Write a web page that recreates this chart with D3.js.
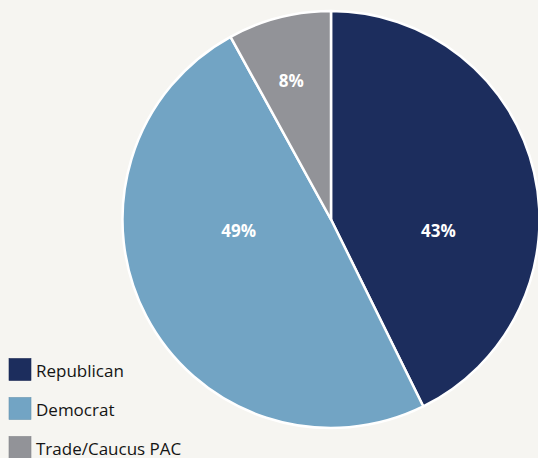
<!DOCTYPE html>
<html>
<head>
<meta charset="utf-8">
<script src="https://cdn.jsdelivr.net/npm/d3@7"></script>
<style>
  body { margin: 0; background: #f6f5f1; }
  svg { display: block; }
</style>
</head>
<body>
<svg id="chart" width="538" height="458"></svg>
<script>
const categories = ['Republican', 'Democrat', 'Trade/Caucus PAC'];
const shares = [42.7, 49.3, 8.0];
const sliceColors = ['#1c2d5d', '#72a4c4', '#929398'];

const width = 538;
const height = 458;
const cx = 331, cy = 219.5, radius = 208.5;

// where each label sits: [angle in degrees from top, distance from centre]
const labelPolar = [[95.9, 108], [263.2, 93], [344, 144]];

const svg = d3.select('#chart');

const pie = d3.pie().sort(null).value(d => d);
const arc = d3.arc().innerRadius(0).outerRadius(radius);

const g = svg.append('g').attr('transform', `translate(${cx},${cy})`);

g.selectAll('path')
  .data(pie(shares))
  .enter()
  .append('path')
  .attr('d', arc)
  .attr('fill', (d, i) => sliceColors[i])
  .attr('stroke', '#fff')
  .attr('stroke-width', 2.5)
  .attr('stroke-linejoin', 'round');

g.selectAll('text.pct')
  .data(shares)
  .enter()
  .append('text')
  .attr('class', 'pct')
  .attr('x', (d, i) => labelPolar[i][1] * Math.sin(labelPolar[i][0] * Math.PI / 180))
  .attr('y', (d, i) => -labelPolar[i][1] * Math.cos(labelPolar[i][0] * Math.PI / 180))
  .attr('dy', '0.36em')
  .attr('text-anchor', 'middle')
  .attr('fill', '#fff')
  .attr('font-family', 'Open Sans, sans-serif')
  .attr('font-weight', 'bold')
  .attr('font-size', 17)
  .text(d => Math.round(d) + '%');

// legend
const legendY = d3.scalePoint().domain(categories).range([369.5, 447.5]);

const legend = svg.selectAll('g.legend')
  .data(categories)
  .enter()
  .append('g')
  .attr('class', 'legend')
  .attr('transform', d => `translate(9,${legendY(d)})`);

legend.append('rect')
  .attr('x', 0)
  .attr('y', -11)
  .attr('width', 22)
  .attr('height', 22)
  .attr('fill', (d, i) => sliceColors[i])
  .attr('stroke', (d, i) => d3.color(sliceColors[i]).darker(0.3))
  .attr('stroke-width', 0.6);

legend.append('text')
  .attr('x', 27)
  .attr('y', 0)
  .attr('dy', '0.44em')
  .attr('fill', '#141414')
  .attr('font-family', 'Open Sans, sans-serif')
  .attr('font-size', 17)
  .text(d => d);
</script>
</body>
</html>
